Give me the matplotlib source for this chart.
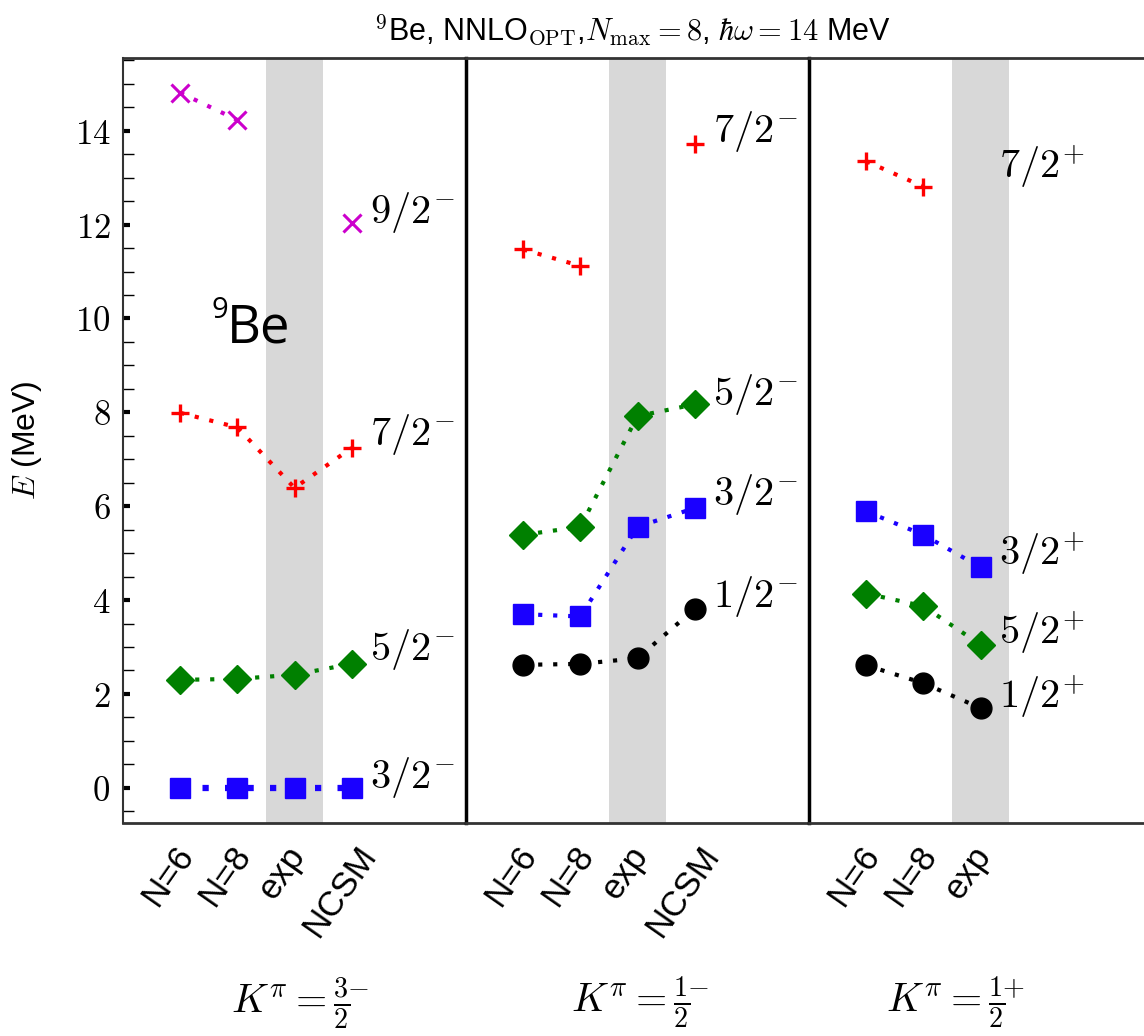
import numpy as np
import matplotlib
matplotlib.use("Agg")
import matplotlib.pyplot as plt
from matplotlib.ticker import MultipleLocator, FuncFormatter
from matplotlib.transforms import ScaledTranslation

plt.rcParams["mathtext.fontset"] = "cm"
plt.rcParams["font.family"] = ["Liberation Sans", "DejaVu Sans"]

nan = np.nan

# K^pi = 3/2^- band
k32_labels = ["N=6", "N=8", "exp", "NCSM"]
k32_j32 = [0.0, 0.0, 0.0, 0.0]
k32_j52 = [2.30, 2.32, 2.41, 2.64]
k32_j72 = [7.99, 7.68, 6.39, 7.24]
k32_j92 = [14.81, 14.23, nan, 12.04]

# K^pi = 1/2^- band
k12m_labels = ["N=6", "N=8", "exp", "NCSM"]
k12m_j12 = [2.62, 2.64, 2.76, 3.81]
k12m_j32 = [3.70, 3.65, 5.56, 5.96]
k12m_j52 = [5.39, 5.56, 7.92, 8.17]
k12m_j72 = [11.47, 11.12, nan, 13.71]

# K^pi = 1/2^+ band
k12p_labels = ["N=6", "N=8", "exp"]
k12p_j12 = [2.61, 2.23, 1.70]
k12p_j52 = [4.14, 3.87, 3.05]
k12p_j32 = [5.89, 5.39, 4.70]
k12p_j72 = [13.35, 12.81, nan]

# state names and where they sit
k32_names = [r"$3/2^{\!-}$", r"$5/2^{\!-}$", r"$7/2^{\!-}$", r"$9/2^{\!-}$"]
k32_name_y = [0.23, 2.94, 7.53, 12.26]
k12m_names = [r"$1/2^{\!-}$", r"$3/2^{\!-}$", r"$5/2^{\!-}$", r"$7/2^{\!-}$"]
k12m_name_y = [4.08, 6.25, 8.38, 13.99]
k12p_names = [r"$1/2^{\!+}$", r"$5/2^{\!+}$", r"$3/2^{\!+}$", r"$7/2^{\!+}$"]
k12p_name_y = [1.94, 3.30, 5.00, 13.24]

band_titles = [r"$K^\pi=\frac{3}{2}^{\!\!\!-}$", r"$K^\pi=\frac{1}{2}^{\!\!\!-}$",
               r"$K^\pi=\frac{1}{2}^{\!\!\!+}$"]

style = {
    "1/2": dict(marker="o", color="black", ms=15),
    "3/2": dict(marker="s", color="#1a00ff", ms=15),
    "5/2": dict(marker="D", color="#008000", ms=14),
    "7/2": dict(marker="+", color="#ff0000", ms=13, mew=2.4),
    "9/2": dict(marker="x", color="#cc00cc", ms=13, mew=2.2),
}
dots = (0, (1, 2.6))

panels = [
    (k32_labels, [("3/2", k32_j32), ("5/2", k32_j52), ("7/2", k32_j72), ("9/2", k32_j92)],
     k32_names, k32_name_y),
    (k12m_labels, [("1/2", k12m_j12), ("3/2", k12m_j32), ("5/2", k12m_j52), ("7/2", k12m_j72)],
     k12m_names, k12m_name_y),
    (k12p_labels, [("1/2", k12p_j12), ("5/2", k12p_j52), ("3/2", k12p_j32), ("7/2", k12p_j72)],
     k12p_names, k12p_name_y),
]

W, H = 1144, 1036
fig = plt.figure(figsize=(W / 100, H / 100), dpi=100)

ax_left = [123, 466, 809]
ax_w = 343
ax_bottom = (H - 823) / H
ax_h = (823 - 58) / H
title_x = [300, 640, 955]

axes = []
for i, (xlab, series, names, name_y) in enumerate(panels):
    ax = fig.add_axes([ax_left[i] / W, ax_bottom, ax_w / W, ax_h])
    ax.patch.set_visible(False)
    axes.append(ax)
    ax.axvspan(1.5, 2.5, color="#d8d8d8", lw=0, zorder=0)
    x = np.arange(len(xlab))
    for j, vals in series:
        st = dict(style[j])
        lw = 4.5 if (i == 0 and j == "3/2") else 3
        ax.plot(x, vals, linestyle=dots, lw=lw, color=st.pop("color"),
                marker=st.pop("marker"), **st, clip_on=False, zorder=3)
    xl = len(xlab) - 1 + 0.32
    for name, yy in zip(names, name_y):
        ax.text(xl, yy, name, fontsize=29, va="center", ha="left", zorder=4)

    ax.set_xlim(-1, 5)
    ax.set_ylim(-0.75, 15.55)
    ax.set_xticks(x)
    ax.set_xticklabels(xlab, rotation=55, fontsize=25)
    ax.tick_params(axis="x", length=0, pad=12)
    off = ScaledTranslation(-12 / 100, 0, fig.dpi_scale_trans)
    for t in ax.get_xticklabels():
        t.set_transform(t.get_transform() + off)

    for s in ["top", "bottom"]:
        ax.spines[s].set_color("#333333")
        ax.spines[s].set_linewidth(2)
    ax.spines["right"].set_color("black")
    ax.spines["right"].set_linewidth(2.5)
    ax.spines["right"].set_zorder(6)
    if i == 0:
        ax.spines["left"].set_color("#333333")
        ax.spines["left"].set_linewidth(1.5)
        ax.yaxis.set_major_locator(MultipleLocator(2))
        ax.yaxis.set_minor_locator(MultipleLocator(0.5))
        ax.yaxis.set_major_formatter(FuncFormatter(lambda v, p: f"${int(round(v))}$"))
        ax.tick_params(axis="y", which="major", direction="in", length=5, width=3,
                       labelsize=25, pad=9)
        ax.tick_params(axis="y", which="minor", direction="in", length=8, width=1)
        ax.set_ylabel(r"$E$ (MeV)", fontsize=23, labelpad=22)
    else:
        ax.spines["left"].set_visible(False)
        ax.set_yticks([])

    fig.text(title_x[i] / W, 1 - 1003 / H, band_titles[i], fontsize=29,
             ha="center", va="center")

# nucleus tag in the first panel
axes[0].text(0.82, 9.49, "Be", fontsize=38, family=["Open Sans", "DejaVu Sans"],
             ha="left", va="baseline", zorder=5)
axes[0].text(0.55, 10.47, "9", fontsize=21, family=["Open Sans", "DejaVu Sans"],
             ha="left", va="top", zorder=5)

fig.text(632 / W, 1 - 30 / H,
         r"$^9$Be, NNLO$_{\rm OPT}$,$N_{\rm max}=8$, $\hbar\omega=14$ MeV",
         fontsize=22, ha="center", va="center")

fig.savefig("out.png", dpi=100)
